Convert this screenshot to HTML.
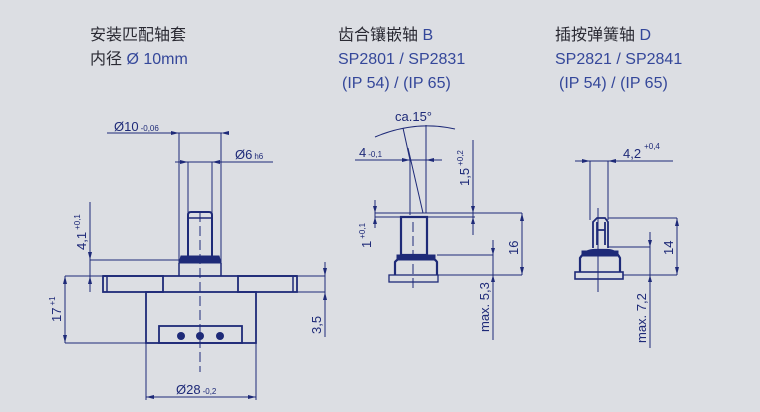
<!DOCTYPE html>
<html><head><meta charset="utf-8"><style>
html,body{margin:0;padding:0;background:#dcdee3;}
svg{display:block}
.t{font-family:"Liberation Sans","Noto Sans CJK SC",sans-serif;font-size:16px;}
.c{fill:#2a2a33}
.b{fill:#34479a}
.d{font-family:"Liberation Sans",sans-serif;font-size:13px;fill:#1e2a78}
.s{font-family:"Liberation Sans",sans-serif;font-size:8px;fill:#1e2a78}
</style></head><body>
<svg width="760" height="412" viewBox="0 0 760 412" xmlns="http://www.w3.org/2000/svg">
<rect width="760" height="412" fill="#dcdee3"/>
<text class="t c" x="90" y="40">安装匹配轴套</text>
<text class="t c" x="90" y="64">内径 <tspan class="b">Ø 10mm</tspan></text>
<text class="t c" x="338" y="40">齿合镶嵌轴 <tspan class="b">B</tspan></text>
<text class="t b" x="338" y="64">SP2801 / SP2831</text>
<text class="t b" x="342" y="88">(IP 54) / (IP 65)</text>
<text class="t c" x="555" y="40">插按弹簧轴 <tspan class="b">D</tspan></text>
<text class="t b" x="555" y="64">SP2821 / SP2841</text>
<text class="t b" x="559" y="88">(IP 54) / (IP 65)</text>

<g stroke="#1e2a78" fill="none" stroke-width="1">
<!-- drawing 1 -->
<line x1="107" y1="133" x2="222" y2="133"/>
<line x1="179" y1="133" x2="179" y2="276"/>
<line x1="221" y1="133" x2="221" y2="276"/>
<line x1="175" y1="162" x2="273" y2="162"/>
<line x1="188" y1="162" x2="188" y2="256"/><line x1="212" y1="162" x2="212" y2="256"/>
<path d="M188 258 L188 215 Q188 212 191 212 L209 212 Q212 212 212 215 L212 258" stroke-width="2"/>
<line x1="189" y1="218" x2="211" y2="218" stroke-width="1.5"/>
<path d="M179 263 L181 256 L219 256 L221 263 Z" fill="#1e2a78"/>
<line x1="179" y1="263" x2="179" y2="276" stroke-width="1.5"/><line x1="221" y1="263" x2="221" y2="276" stroke-width="1.5"/>
<line x1="65" y1="276" x2="325" y2="276"/>
<line x1="103" y1="276" x2="297" y2="276" stroke-width="1.8"/>
<rect x="103" y="276" width="60" height="16" stroke-width="1.8"/>
<rect x="238" y="276" width="59" height="16" stroke-width="1.8"/>
<line x1="107" y1="276" x2="107" y2="292" stroke-width="1.5"/><line x1="293" y1="276" x2="293" y2="292" stroke-width="1.5"/>
<rect x="146" y="292" width="110" height="51" stroke-width="1.8"/>
<rect x="159" y="326" width="83" height="17" stroke-width="1.8"/>
<line x1="146" y1="343" x2="65" y2="343"/>
<line x1="65" y1="276" x2="65" y2="343"/>
<line x1="90" y1="202" x2="90" y2="292"/>
<line x1="90" y1="260" x2="179" y2="260"/>
<line x1="256" y1="292" x2="325" y2="292"/>
<line x1="325" y1="262" x2="325" y2="337"/>
<line x1="146" y1="343" x2="146" y2="400"/><line x1="256" y1="343" x2="256" y2="400"/>
<line x1="146" y1="397" x2="256" y2="397"/>
<line x1="200" y1="212" x2="200" y2="372" stroke-dasharray="10,4"/>
<!-- drawing 2 -->
<path d="M375 137 Q415 120 455 129"/>
<line x1="403" y1="128" x2="410" y2="160"/>
<line x1="408" y1="148" x2="423" y2="213"/>
<line x1="426" y1="125" x2="426" y2="213"/>
<line x1="355" y1="160" x2="442" y2="160"/>
<line x1="410" y1="160" x2="410" y2="215"/>
<line x1="375" y1="213" x2="522" y2="213"/>
<line x1="375" y1="217" x2="475" y2="217"/>
<line x1="375" y1="200" x2="375" y2="228"/>
<line x1="473" y1="140" x2="473" y2="235"/>
<line x1="522" y1="213" x2="522" y2="275"/>
<rect x="401" y="217" width="26" height="38" stroke-width="2.2"/>
<path d="M395 275 L395 262 Q400 256 410 256 L422 256 Q433 256 437 262 L437 275" stroke-width="2.2"/>
<rect x="397" y="255" width="38" height="5" fill="#1e2a78"/>
<rect x="389" y="275" width="49" height="7" stroke-width="1.3"/>
<line x1="437" y1="275" x2="522" y2="275"/>
<line x1="437" y1="255" x2="493" y2="255"/>
<line x1="493" y1="240" x2="493" y2="340"/>
<line x1="413" y1="222" x2="413" y2="290" stroke-dasharray="10,4"/>
<!-- drawing 3 -->
<line x1="575" y1="161" x2="673" y2="161"/>
<line x1="590" y1="161" x2="590" y2="220"/>
<line x1="608" y1="161" x2="608" y2="220"/>
<line x1="608" y1="218" x2="677" y2="218"/>
<line x1="677" y1="218" x2="677" y2="275"/>
<path d="M593 248 L593 222 L597 218 L605 218 L608 222 L608 248 M597 230 L605 230 M597 222 V245 M605 222 V245" stroke-width="1.8"/>
<path d="M580 272 L580 258 Q585 250 595 250 L607 250 Q616 250 620 258 L620 272" stroke-width="2.2"/>
<rect x="582" y="251" width="36" height="5" fill="#1e2a78"/>
<rect x="575" y="272" width="48" height="7" stroke-width="1.6"/>
<line x1="623" y1="275" x2="677" y2="275"/>
<line x1="608" y1="247" x2="650" y2="247"/>
<line x1="650" y1="232" x2="650" y2="348"/>
<line x1="598" y1="208" x2="598" y2="292"/>
</g>
<g fill="#1e2a78">
<circle cx="181" cy="336" r="4"/><circle cx="200" cy="336" r="4"/><circle cx="220" cy="336" r="4"/>
<path d="M179 133 l-8 -2 v4z M221 133 l8 -2 v4z M188 162 l-8 -2 v4z M212 162 l8 -2 v4z M146 397 l8 -2 v4z M256 397 l-8 -2 v4z"/>
<path d="M65 276 l-2 8 h4z M65 343 l-2 -8 h4z M90 260 l-2 -8 h4z M90 276 l-2 8 h4z M325 276 l-2 -8 h4z M325 292 l-2 8 h4z"/>
<path d="M410 160 l-8 -2 v4z M426 160 l8 -2 v4z M375 213 l-2 -7 h4z M375 217 l-2 7 h4z M473 213 l-2 -7 h4z M473 217 l-2 7 h4z M522 213 l-2 8 h4z M522 275 l-2 -8 h4z M493 255 l-2 -7 h4z M493 275 l-2 7 h4z"/>
<path d="M590 161 l-8 -2 v4z M608 161 l8 -2 v4z M677 218 l-2 8 h4z M677 275 l-2 -8 h4z M650 247 l-2 -7 h4z M650 275 l-2 7 h4z"/>
</g>
<text class="d" x="114" y="131">Ø10<tspan class="s" dx="2">-0,06</tspan></text>
<text class="d" x="235" y="159">Ø6<tspan class="s" dx="2">h6</tspan></text>
<text class="d" x="176" y="394">Ø28<tspan class="s" dx="2">-0,2</tspan></text>
<text class="d" transform="translate(86,250) rotate(-90)">4,1<tspan class="s" dx="2" dy="-6">+0,1</tspan></text>
<text class="d" transform="translate(61,322) rotate(-90)">17<tspan class="s" dx="2" dy="-6">+1</tspan></text>
<text class="d" transform="translate(321,334) rotate(-90)">3,5</text>
<text class="d" x="395" y="121">ca.15°</text>
<text class="d" x="359" y="157">4<tspan class="s" dx="2">-0,1</tspan></text>
<text class="d" transform="translate(469,186) rotate(-90)">1,5<tspan class="s" dx="2" dy="-6">+0,2</tspan></text>
<text class="d" transform="translate(371,248) rotate(-90)">1<tspan class="s" dx="2" dy="-6">+0,1</tspan></text>
<text class="d" transform="translate(518,255) rotate(-90)">16</text>
<text class="d" transform="translate(489,332) rotate(-90)">max. 5,3</text>
<text class="d" x="623" y="158">4,2<tspan class="s" dx="3" dy="-9">+0,4</tspan></text>
<text class="d" transform="translate(673,255) rotate(-90)">14</text>
<text class="d" transform="translate(646,343) rotate(-90)">max. 7,2</text>
</svg>
</body></html>
